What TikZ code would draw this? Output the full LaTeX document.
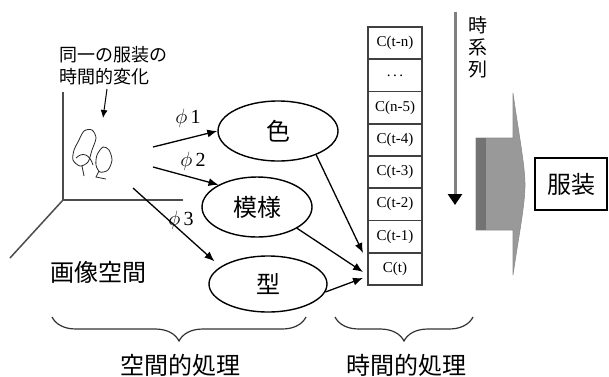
\documentclass[tikz,border=0pt]{standalone}
\usepackage{fontspec}
\setmainfont{Liberation Serif}
\newfontfamily\jpfont{Noto Sans CJK JP}
\usetikzlibrary{shapes.geometric,decorations.pathreplacing,arrows.meta}

\begin{document}
\begin{tikzpicture}
[x=1pt,y=-1pt,
  lineDecorate/.style={-{Latex[length=10pt,width=8pt]},line width=1.3pt},
  axisDecorate/.style={line width=1.5pt,black!70},
  sketchDecorate/.style={line width=0.8pt,black!85},
  featDecorate/.style={shape=ellipse,draw,line width=1.4pt,inner sep=0pt,
    font=\jpfont\fontsize{24}{24}\selectfont},
  cellDecorate/.style={shape=rectangle,draw=black!75,line width=1.6pt,
    minimum width=54pt,minimum height=32.25pt,inner sep=0pt,
    font=\fontsize{15}{15}\selectfont},
  jpDecorate/.style={font=\jpfont\fontsize{24}{24}\selectfont,inner sep=0pt},
  braceDecorate/.style={decorate,decoration={brace,mirror,amplitude=24pt},
    line width=1.2pt,black!80}]
\useasboundingbox (0,0) rectangle (609,376);

%% image space axes
\draw[axisDecorate] (63,92) -- (63,200) -- (183,200);
\draw[axisDecorate] (63,200) -- (10,258);
\node (space) at (98,272) [jpDecorate] {画像空間};

%% garment outlines
\draw[sketchDecorate] plot[smooth cycle] coordinates
  {(78,142) (84,131) (92,130) (96,138) (92,150) (88,162) (80,166) (73,160) (74,150)};
\draw[sketchDecorate] plot[smooth cycle] coordinates
  {(97,155) (103,147) (109,150) (112,160) (108,170) (100,172) (96,165)};
\draw[sketchDecorate] (76,158) .. controls (83,151) and (90,155) .. (93,165);
\draw[sketchDecorate] (82,166) -- (84,176);
\draw[sketchDecorate] (99,171) -- (96,177) -- (106,179);
\node (note) at (59,66) [anchor=west,align=left,inner sep=0pt,
  font=\jpfont\fontsize{18}{22}\selectfont] {同一の服装の\\時間的変化};
\coordinate (noteTail) at (107,89);
\coordinate (noteTip) at (103,118);
\draw[-{Latex[length=8pt,width=7pt]},line width=1pt] (noteTail) -- (noteTip);

%% features
\node (color) at (278,131) [featDecorate,minimum width=120pt,minimum height=60pt] {色};
\node (pattern) at (257,207) [featDecorate,minimum width=110pt,minimum height=60pt] {模様};
\node (shape) at (268,284) [featDecorate,minimum width=118pt,minimum height=56pt] {型};

\foreach \startname/\x/\y in {s1/153/147, s2/153/167, s3/133/188}
  \coordinate (\startname) at (\x,\y);
\draw[lineDecorate] (s1) -- (color.west);
\draw[lineDecorate] (s2) -- (pattern.150);
\draw[lineDecorate,shorten >=8pt] (s3) -- (shape.160);
\foreach \phiname/\x/\y/\num in {p1/188/118/1, p2/193/161/2, p3/181/220/3}
  \node (\phiname) at (\x,\y) [font=\fontsize{20}{20}\selectfont,inner sep=0pt] {$\phi$\,\num};

%% time series of features
\foreach \cellname/\i/\text in {
  c0/0/C(t-n), c1/1/{.\,.\,.}, c2/2/C(n-5), c3/3/C(t-4),
  c4/4/C(t-3), c5/5/C(t-2), c6/6/C(t-1), c7/7/C(t)}
{
  \node (\cellname) at (395,43.1+32.25*\i) [cellDecorate] {\text};
}
\foreach \inname/\y in {in1/253, in2/272, in3/278}
  \coordinate (\inname) at (363,\y);
\draw[lineDecorate] (color.-32) -- (in1);
\draw[lineDecorate] (pattern.-28) -- (in2);
\draw[lineDecorate] (shape.-8) -- (in3);

%% time direction
\coordinate (timeTop) at (455,12);
\coordinate (timeEnd) at (455,205);
\draw[-{Triangle[length=11pt,width=14pt,color=black]},line width=3pt,black!50] (timeTop) -- (timeEnd);
\node (timeLabel) at (478,47) [align=center,inner sep=0pt,
  font=\jpfont\fontsize{19}{22}\selectfont] {時\\系\\列};

%% block arrow to the output
\draw[fill=black!40,draw=black!45,line width=0.6pt]
  (476,138) -- (513,138) -- (513,93) .. controls (518,130) and (525,165) .. (525,185)
  .. controls (525,205) and (518,240) .. (513,275) -- (513,230) -- (476,230) -- cycle;
\fill[black!55] (476,138) rectangle (486,230);
\node (output) at (571,184) [draw,line width=1.5pt,minimum width=72pt,minimum height=52pt,
  jpDecorate] {服装};

%% processing stages
\draw[braceDecorate] (52,317) -- (306,317);
\draw[braceDecorate] (335,317) -- (473,317);
\node (spatial) at (180,365) [jpDecorate] {空間的処理};
\node (temporal) at (406,365) [jpDecorate] {時間的処理};
\end{tikzpicture}
\end{document}
